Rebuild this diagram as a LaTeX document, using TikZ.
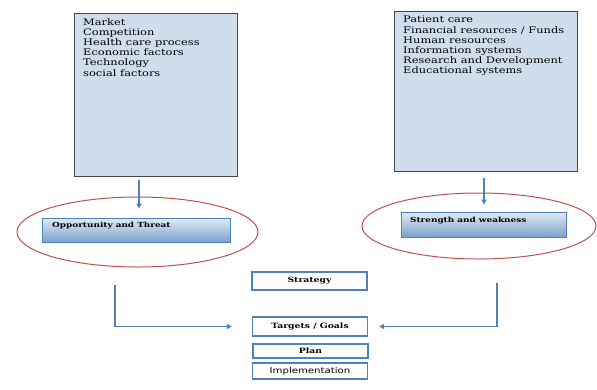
\documentclass[tikz,border=0pt]{standalone}
\usepackage{fontspec}
\setmainfont{DejaVu Serif}
\newfontfamily\listfont[FakeStretch=1.27]{DejaVu Serif}
\newfontfamily\plainsans[FakeStretch=1.27]{DejaVu Sans}
\usetikzlibrary{shapes.geometric,arrows.meta,calc}
\definecolor{boxblue}{RGB}{207,221,236}
\definecolor{linkblue}{RGB}{79,129,189}
\definecolor{ringred}{RGB}{192,80,77}
\definecolor{boxgray}{RGB}{70,70,70}

\tikzset{
  listbox/.style={draw=boxgray, fill=boxblue, line width=0.8pt, inner sep=0pt},
  listtext/.style={anchor=north west, align=left, inner sep=0pt, font=\listfont\fontsize{9}{10.2}\selectfont},
  factorbox/.style={draw=linkblue, top color=boxblue!60, bottom color=linkblue!75, line width=0.8pt, inner sep=0pt},
  factortext/.style={anchor=west, inner sep=0pt, font=\listfont\bfseries\fontsize{7}{8}\selectfont},
  ring/.style={draw=ringred, ellipse, line width=1pt, inner sep=0pt},
  stepbox/.style={draw=linkblue, fill=white, line width=1.4pt, minimum width=115pt, inner sep=0pt, font=\listfont\bfseries\fontsize{7.3}{8}\selectfont},
  link/.style={draw=linkblue, line width=1.8pt, -{Triangle[length=5pt,width=5pt]}},
}

\begin{document}
\begin{tikzpicture}[x=1pt,y=-1pt]
  \useasboundingbox (0,0) rectangle (597,389);

  % External factors
  \node[listbox, minimum width=163pt, minimum height=163pt] (ext) at (155.5,94.5) {};
  \node[listtext] (extlist) at (83,18) {Market\\Competition\\Health care process\\Economic factors\\Technology\\social factors};

  % Internal factors
  \node[listbox, minimum width=183pt, minimum height=160pt] (int) at (485.5,91) {};
  \node[listtext] (intlist) at (403,16) {Patient care\\Financial resources / Funds\\Human resources\\Information systems\\Research and Development\\Educational systems};

  % Rings
  \node[ring, minimum width=241pt, minimum height=70pt] (oppring) at (137.5,232) {};
  \node[ring, minimum width=234pt, minimum height=66pt] (swkring) at (479,226) {};

  % Opportunity / strength boxes
  \node[factorbox, minimum width=188pt, minimum height=24pt] (opp) at (136,230) {};
  \node[factortext] (opptext) at (52,226) {Opportunity and Threat};
  \node[factorbox, minimum width=165pt, minimum height=25pt] (swk) at (483.5,224.5) {};
  \node[factortext] (swktext) at (410,221) {Strength and weakness};

  % Steps
  \node[stepbox, minimum height=18pt] (strategy) at (309.5,281) {Strategy};
  \node[stepbox, minimum height=19pt] (targets) at (310,326.5) {Targets / Goals};
  \node[stepbox, minimum height=14pt] (plan) at (310.5,351) {Plan};
  \node[stepbox, minimum height=16pt, font=\plainsans\fontsize{8}{9}\selectfont] (impl) at (310,371) {Implementation};

  % Arrows
  \draw[link, shorten >=9pt] ([xshift=-16.5pt,yshift=-4pt]ext.south) -- ([xshift=3pt]opp.north);
  \draw[link, shorten >=7pt] ([xshift=-1.5pt,yshift=-7pt]int.south) -- ([xshift=0.5pt]swk.north);
  \coordinate (oppout) at (115,285);
  \coordinate (swkout) at (497,283);
  \draw[link, shorten >=20pt] (oppout) |- (targets.west);
  \draw[link, shorten >=11pt] (swkout) |- (targets.east);
\end{tikzpicture}
\end{document}
